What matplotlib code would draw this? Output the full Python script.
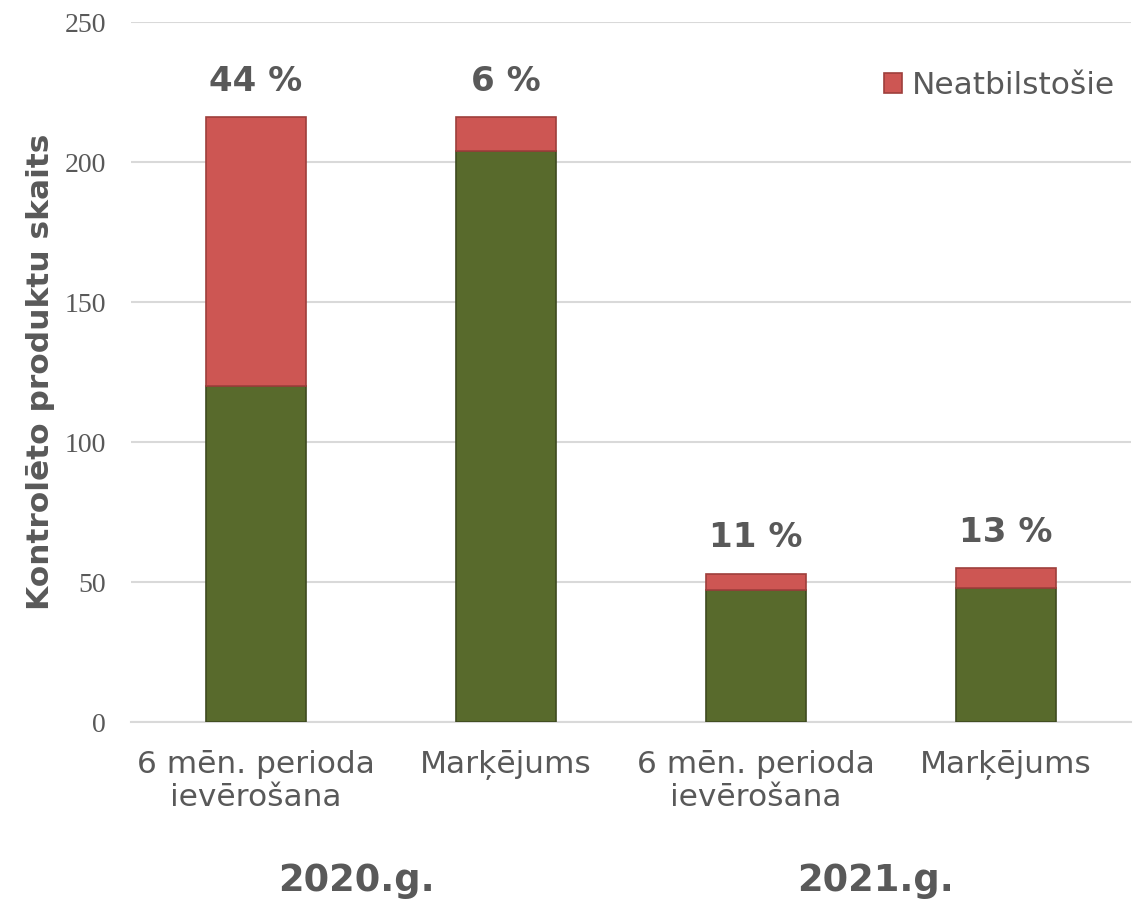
import matplotlib.pyplot as plt
from matplotlib.transforms import blended_transform_factory

categories = ['6 mēn. perioda\nievērošana', 'Marķējums',
              '6 mēn. perioda\nievērošana', 'Marķējums']
compliant = [120, 204, 47, 48]
noncompliant = [96, 12, 6, 7]
years = ['2020.g.', '2021.g.']
year_pos = [0.4, 2.48]

green = '#586A2C'
red = '#CD5653'
gray = '#595959'

fig = plt.figure(figsize=(11.36, 8.99), dpi=100)
ax = fig.add_axes([131 / 1136, 177 / 899, 1000 / 1136, 700 / 899])

x = range(len(categories))
ax.bar(x, compliant, width=0.4, color=green, edgecolor='#3E4A1F', linewidth=1.2, zorder=3)
ax.bar(x, noncompliant, width=0.4, bottom=compliant, color=red, edgecolor='#9E3F3C',
       linewidth=1.2, zorder=3, label='Neatbilstošie')

for i in x:
    total = compliant[i] + noncompliant[i]
    pct = round(100 * noncompliant[i] / total)
    ax.annotate(f'{pct} %', (i, total), xytext=(0, 14), textcoords='offset points',
                ha='center', va='bottom', fontsize=24.5, fontweight='bold', color=gray)

ax.set_xlim(-0.5, 3.5)
ax.set_ylim(0, 250)
ax.set_yticks(range(0, 251, 50))
ax.set_xticks(list(x))
ax.set_xticklabels(categories, fontsize=22.5, color=gray, linespacing=1.2)
for lbl in ax.get_yticklabels():
    lbl.set_fontfamily('Liberation Serif')
    lbl.set_fontsize(20)
    lbl.set_color(gray)
ax.tick_params(axis='both', length=0)
ax.tick_params(axis='x', pad=20)
ax.tick_params(axis='y', pad=18)
ax.grid(axis='y', color='#D9D9D9', linewidth=1.5, zorder=0)
for s in ['top', 'right', 'left']:
    ax.spines[s].set_visible(False)
ax.spines['bottom'].set_color('#D9D9D9')
ax.spines['bottom'].set_linewidth(1.5)

ax.set_ylabel('Kontrolēto produktu skaits', fontsize=22.5, fontweight='bold', color=gray, labelpad=7)

trans = blended_transform_factory(ax.transData, ax.transAxes)
for yr, xp in zip(years, year_pos):
    ax.text(xp, -0.226, yr, transform=trans, ha='center', va='center',
            fontsize=26.5, fontweight='bold', color=gray)

leg = ax.legend(loc='upper right', bbox_to_anchor=(1.012, 0.97), frameon=False, fontsize=22.5,
                handlelength=0.6, handleheight=0.6, handletextpad=0.3, labelcolor=gray)

fig.savefig('out.png', dpi=100)
